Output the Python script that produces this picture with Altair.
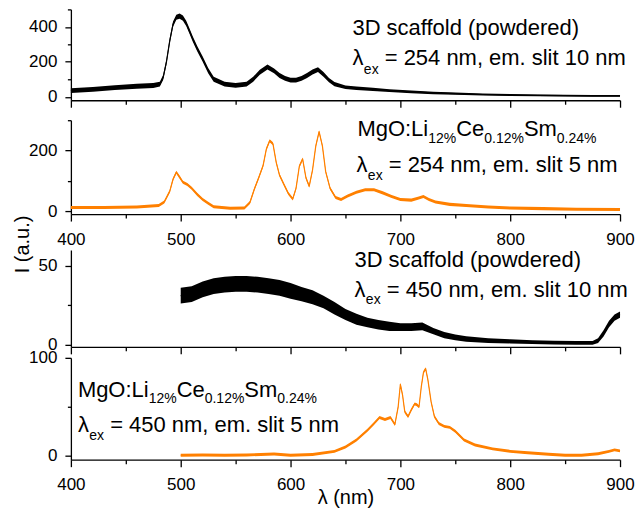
import altair as alt
import pandas as pd

FONT = "Liberation Sans"
BLACK = "#000000"
ORANGE = "#ff8000"

# ---------------- data ----------------
# Panel 1: 3D scaffold, excitation 254 nm
wl1 = [400, 420, 440, 460, 475, 481, 484, 487, 490, 493, 496, 499, 502, 505, 508,
       511, 515, 520, 525, 530, 540, 550, 560, 566, 572, 579, 585, 590, 595, 600,
       605, 610, 615, 620, 625, 630, 635, 640, 650, 660, 675, 690, 710, 730, 750,
       775, 800, 825, 850, 875, 900]
v1 = [35, 42, 52, 60, 64, 72, 110, 200, 320, 415, 455, 462, 450, 420, 375,
      330, 275, 215, 150, 100, 72, 65, 72, 100, 140, 170, 148, 122, 105, 95,
      95, 105, 122, 142, 155, 128, 95, 72, 55, 48, 42, 35, 28, 22, 18,
      13, 10, 8, 6, 5, 5]
noise1 = [14, 14, 14, 14, 14, 14, 14, 15, 15, 15, 15, 15, 15, 15, 15,
          15, 15, 15, 15, 14, 14, 14, 14, 14, 14, 14, 14, 14, 14, 14,
          14, 14, 14, 14, 14, 14, 12, 12, 10, 10, 9, 8, 8, 7, 7,
          6, 6, 5, 5, 5, 5]

# Panel 2: MgO:Li,Ce,Sm, excitation 254 nm
wl2 = [400, 430, 460, 480, 485, 490, 493, 496, 499, 502, 506, 510, 515, 520, 525,
       530, 545, 558, 563, 567, 571, 575, 578, 581, 584, 587, 590, 594, 598, 602,
       605, 608, 611, 614, 617, 620, 623, 626, 629, 632, 636, 641, 646, 652, 660,
       668, 676, 684, 692, 700, 710, 716, 721, 726, 732, 745, 760, 780, 800, 830,
       860, 900]
v2 = [12, 12, 13, 18, 30, 65, 105, 128, 112, 95, 88, 75, 55, 38, 26,
      14, 9, 10, 28, 72, 110, 150, 205, 232, 222, 160, 118, 88, 58, 40,
      75, 148, 172, 110, 82, 135, 215, 262, 215, 130, 75, 45, 38, 50, 62,
      70, 70, 60, 48, 38, 36, 42, 48, 38, 30, 22, 18, 13, 10, 8,
      6, 5]
noise2 = 5

# Panel 3: 3D scaffold, excitation 450 nm
wl3 = [500, 510, 520, 530, 540, 550, 560, 570, 580, 590, 600, 610, 620, 630, 640,
       650, 660, 670, 680, 690, 700, 710, 720, 730, 740, 750, 760, 780, 800, 820,
       840, 860, 875, 880, 885, 890, 895, 900]
v3 = [31, 32, 35, 37, 38, 38.5, 38.5, 38, 37, 36, 34, 32, 30, 27, 23,
      19, 16, 14, 12.5, 11.5, 11, 11, 11.5, 8.5, 6, 4.5, 3.5, 2.5, 2, 1.5,
      1.2, 1, 1, 2.5, 7, 13, 17, 19]
noise3 = [5, 5, 5, 5, 5, 5, 5, 5, 5, 5, 5, 4.5, 4.5, 4, 4,
          3.5, 3.5, 3, 3, 3, 2.5, 2.5, 2.5, 2, 2, 1.8, 1.8, 1.5, 1.3, 1.2,
          1.2, 1.2, 1.2, 1.5, 2, 2, 2, 2]

# Panel 4: MgO:Li,Ce,Sm, excitation 450 nm
wl4 = [500, 520, 540, 560, 585, 600, 620, 640, 650, 660, 670, 676, 681, 686, 691,
       695, 698, 700, 702, 704, 707, 710, 713, 715, 717, 719, 721, 723, 725, 728,
       731, 735, 740, 745, 750, 758, 768, 784, 800, 816, 835, 850, 865, 880, 890,
       895, 900]
v4 = [0.5, 0.8, 0.5, 0.8, 1.8, 0.6, 1.2, 4.5, 9, 16, 26, 33, 39, 37, 39,
      32, 50, 73, 62, 45, 40, 47, 53, 52, 50, 70, 85, 89, 78, 55,
      40, 33, 30, 29, 25, 16, 11, 7, 4.5, 3, 1.5, 0.5, 0.5, 2, 4.5,
      6, 5]
noise4 = 1.5

x_ticks = [400, 450, 500, 550, 600, 650, 700, 750, 800, 850, 900]
y_ticks1 = [0, 100, 200, 300, 400, 500]
y_ticks2 = [0, 100, 200, 300]
y_ticks3 = [0, 25, 50]
y_ticks4 = [0, 50, 100]

label_scaffold = "3D scaffold (powdered)"
label_mgo = [("MgO:Li", False), ("12%", True), ("Ce", False), ("0.12%", True),
             ("Sm", False), ("0.24%", True)]

def lam_line(rest):
    return [("\u03bb", False), ("ex", True), (rest, False)]

# ---------------- helpers ----------------
W = {' ': 278, '(': 333, ')': 333, '%': 889, ',': 278, '.': 278, ':': 278, '=': 584,
     'D': 722, 'C': 722, 'L': 556, 'M': 833, 'O': 778, 'S': 667,
     'a': 556, 'c': 500, 'd': 556, 'e': 556, 'f': 278, 'g': 556, 'i': 222, 'l': 222,
     'm': 833, 'n': 556, 'o': 556, 'p': 556, 'r': 333, 's': 500, 't': 278, 'w': 722,
     'x': 500, '\u03bb': 520}
for d in "0123456789":
    W[d] = 556

def tw(s, fs):
    return sum(W.get(c, 556) for c in s) / 1000.0 * fs

FS, FS_SUB = 22, 14

def text_layers(segs, x0, y0, dsub):
    out = []
    x = x0
    for txt, sub in segs:
        fs = FS_SUB if sub else FS
        lead = len(txt) - len(txt.lstrip(' '))
        x += tw(' ' * lead, fs)
        t = txt.lstrip(' ')
        out.append(
            alt.Chart(pd.DataFrame({"t": [t]}))
            .mark_text(align="left", baseline="alphabetic", font=FONT, fontSize=fs, color=BLACK)
            .encode(text="t:N", x=alt.value(x), y=alt.value(y0 + (dsub if sub else 0)))
        )
        x += tw(t, fs)
    return out

def x_axis(labels, title=None):
    kw = dict(values=x_ticks,
              labelExpr="datum.value % 100 === 0 ? datum.label : ''",
              tickSize={"condition": {"test": "datum.value % 100 === 0", "value": 7}, "value": 4},
              labels=labels, labelPadding=10, labelFlush=False, labelOverlap=False,
              labelFontSize=17)
    if title:
        kw.update(title=title, titleFontSize=20, titleY=38, titleBaseline="middle")
    else:
        kw["title"] = None
    return alt.Axis(**kw)

def y_axis(values, major, title=None):
    test = f"datum.value % {major} === 0"
    kw = dict(values=values,
              labelExpr=f"{test} ? datum.label : ''",
              tickSize={"condition": {"test": test, "value": 6}, "value": 3.5},
              labelPadding=8, labelFlush=False, labelOverlap=False, labelFontSize=17)
    if title:
        kw.update(title=title, titleFontSize=20, titleX=-48, titleY=-6,
                  titleAngle=270, titleBaseline="middle", titleAlign="center")
    else:
        kw["title"] = None
    return alt.Axis(**kw)

def panel(wl, v, noise, color, ydom, yvals, ymajor, h, xlabels, texts,
          xtitle=None, ytitle=None):
    if isinstance(noise, (int, float)):
        nz = [noise] * len(v)
    else:
        nz = noise
    df = pd.DataFrame({"wl": wl, "v": v,
                       "lo": [a - b for a, b in zip(v, nz)],
                       "hi": [a + b for a, b in zip(v, nz)]})
    xs = alt.Scale(domain=[400, 900], nice=False, zero=False)
    ys = alt.Scale(domain=ydom, nice=False, zero=False)
    xa = x_axis(xlabels, xtitle)
    ya = y_axis(yvals, ymajor, ytitle)
    base = alt.Chart(df)
    band = base.mark_area(color=color, opacity=1, interpolate="linear").encode(
        x=alt.X("wl:Q", scale=xs, axis=xa),
        y=alt.Y("lo:Q", scale=ys, axis=ya),
        y2="hi:Q")
    line = base.mark_line(color=color, strokeWidth=1.2, strokeJoin="round").encode(
        x=alt.X("wl:Q", scale=xs, axis=xa), y=alt.Y("v:Q", scale=ys, axis=ya))
    return alt.layer(band, line, *texts).properties(width=550, height=h)

def spacer(h):
    return alt.Chart(pd.DataFrame({"a": [0]})).mark_point(opacity=0).encode(
        x=alt.X("a:Q", axis=None), y=alt.Y("a:Q", axis=None)
    ).properties(width=550, height=h)

t1 = (text_layers([(label_scaffold, False)], 282, 26, 0)
      + text_layers(lam_line(" = 254 nm, em. slit 10 nm"), 282, 56, 9))
t2 = (text_layers(label_mgo, 287, 16, 6.5)
      + text_layers(lam_line(" = 254 nm, em. slit 5 nm"), 286, 52, 8))
t3 = (text_layers([(label_scaffold, False)], 284, 17, 0)
      + text_layers(lam_line(" = 450 nm, em. slit 10 nm"), 284, 47, 7))
t4 = (text_layers(label_mgo, 7, 39, 6.5)
      + text_layers(lam_line(" = 450 nm, em. slit 5 nm"), 7, 74, 8))

p1 = panel(wl1, v1, noise1, BLACK, [-20, 500], y_ticks1, 200, 91, False, t1)
p2 = panel(wl2, v2, noise2, ORANGE, [-10, 300], y_ticks2, 200, 94, True, t2)
p3 = panel(wl3, v3, noise3, BLACK, [-1.5, 60], y_ticks3, 50, 97, False, t3,
           ytitle="I (a.u.)")
p4 = panel(wl4, v4, noise4, ORANGE, [-4, 100], y_ticks4, 100, 102, True, t4,
           xtitle="\u03bb (nm)")

chart = alt.vconcat(p1, spacer(20), p2, spacer(36), p3, spacer(11), p4,
                    spacing=0, bounds="flush").properties(
    padding={"left": 13, "top": 0, "right": 0, "bottom": 0}
).configure_view(stroke=None).configure_axis(
    labelFont=FONT, labelColor=BLACK, titleFont=FONT, titleColor=BLACK,
    titleFontWeight="normal", domainColor=BLACK, tickColor=BLACK,
    domainWidth=1.3, tickWidth=1.3, grid=False
)

chart.save("out.html", embed_options={"renderer": "svg", "actions": False})
